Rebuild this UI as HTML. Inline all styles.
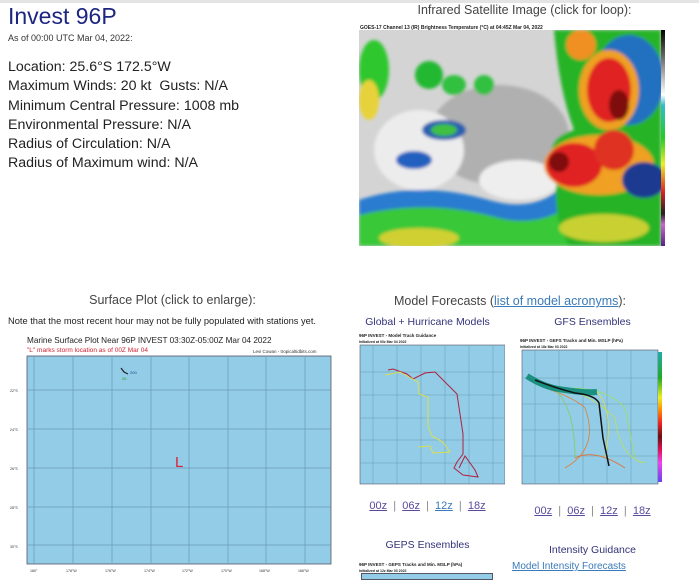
<!DOCTYPE html>
<html><head><meta charset="utf-8"><style>
*{margin:0;padding:0;box-sizing:border-box}
body{width:699px;height:580px;overflow:hidden;background:#fff;font-family:"Liberation Sans","DejaVu Sans",sans-serif;position:relative;color:#222}
.a{position:absolute;white-space:nowrap}
.c{text-align:center}
.lk{color:#5b4a9b;text-decoration:underline}
</style></head><body>
<div class="a" style="left:0;top:0;width:699px;height:3px;background:#e4e4e4"></div>
<div class="a" style="left:8px;top:3px;font-size:23px;color:#1c2580">Invest 96P</div>
<div class="a" style="left:8px;top:33px;font-size:9px;color:#333">As of 00:00 UTC Mar 04, 2022:</div>
<div class="a" style="left:8px;top:58px;font-size:14.2px;line-height:19.3px;color:#222">Location: 25.6°S 172.5°W<br>Maximum Winds: 20 kt&nbsp; Gusts: N/A<br>Minimum Central Pressure: 1008 mb<br>Environmental Pressure: N/A<br>Radius of Circulation: N/A<br>Radius of Maximum wind: N/A</div>

<div class="a c" style="left:350px;width:349px;top:3px;font-size:12.5px;color:#444">Infrared Satellite Image (click for loop):</div>
<div class="a" style="left:360px;top:25px;font-size:5px;font-weight:bold;color:#222">GOES-17 Channel 13 (IR) Brightness Temperature (°C) at 04:45Z Mar 04, 2022</div>
<svg class="a" style="left:359px;top:30px" width="310" height="225" viewBox="0 0 310 225">
<defs><filter id="bl"><feGaussianBlur stdDeviation="1.5"/></filter><clipPath id="cp"><rect x="0" y="0" width="302" height="216"/></clipPath></defs>
<rect x="0" y="0" width="302" height="216" fill="#d4d4d4"/>
<g filter="url(#bl)" clip-path="url(#cp)">
<ellipse cx="140" cy="105" rx="70" ry="50" fill="#b0b0b0"/>
<ellipse cx="60" cy="120" rx="45" ry="40" fill="#ececec"/>
<ellipse cx="160" cy="150" rx="40" ry="20" fill="#eeeeee"/>
<ellipse cx="15" cy="40" rx="15" ry="30" fill="#2ec82e"/>
<ellipse cx="10" cy="70" rx="10" ry="20" fill="#e8d23a"/>
<ellipse cx="70" cy="45" rx="14" ry="14" fill="#22b832"/>
<ellipse cx="95" cy="55" rx="12" ry="10" fill="#30c040"/>
<ellipse cx="125" cy="55" rx="10" ry="10" fill="#30c040"/>
<ellipse cx="85" cy="100" rx="22" ry="10" fill="#2a60b0"/>
<ellipse cx="85" cy="100" rx="13" ry="6" fill="#40c040"/>
<ellipse cx="55" cy="130" rx="18" ry="9" fill="#2060c0"/>
<path d="M0 170 Q60 150 130 170 Q180 185 210 150 L210 216 L0 216Z" fill="#2a7cd0"/>
<path d="M0 185 Q70 168 140 188 Q190 200 230 160 L302 216 L0 216Z" fill="#38c838"/>
<ellipse cx="60" cy="208" rx="40" ry="10" fill="#d0d030"/>
<path d="M195 0 L302 0 L302 216 L210 216 Q190 180 200 140 Q180 110 215 100 Q200 60 195 0Z" fill="#28b428"/>
<ellipse cx="270" cy="50" rx="35" ry="45" fill="#2070c0"/>
<ellipse cx="250" cy="60" rx="30" ry="40" fill="#f0a020"/>
<ellipse cx="250" cy="60" rx="22" ry="32" fill="#e02020"/>
<ellipse cx="260" cy="75" rx="10" ry="15" fill="#801010"/>
<ellipse cx="222" cy="15" rx="15" ry="15" fill="#f09020"/>
<ellipse cx="240" cy="135" rx="55" ry="30" fill="#f0a020"/>
<ellipse cx="215" cy="135" rx="28" ry="22" fill="#e02020"/>
<ellipse cx="200" cy="132" rx="10" ry="10" fill="#801010"/>
<ellipse cx="255" cy="120" rx="20" ry="20" fill="#e03020"/>
<ellipse cx="285" cy="150" rx="22" ry="18" fill="#1a3a90"/>
<ellipse cx="245" cy="198" rx="45" ry="14" fill="#c8d030"/>
</g>
<rect x="302" y="0" width="4" height="216" fill="url(#cb)"/>
<linearGradient id="cb" x1="0" y1="0" x2="0" y2="1"><stop offset="0" stop-color="#000"/><stop offset=".3" stop-color="#fff"/><stop offset=".35" stop-color="#3bc"/><stop offset=".5" stop-color="#2c2"/><stop offset=".62" stop-color="#ee2"/><stop offset=".75" stop-color="#d22"/><stop offset=".85" stop-color="#222"/><stop offset=".9" stop-color="#c6c"/><stop offset="1" stop-color="#528"/></linearGradient>
</svg>

<div class="a c" style="left:0;width:345px;top:293px;font-size:12.5px;color:#444">Surface Plot (click to enlarge):</div>
<div class="a" style="left:8px;top:316px;font-size:9.3px;color:#222">Note that the most recent hour may not be fully populated with stations yet.</div>
<div class="a" style="left:27px;top:336px;font-size:8.2px;color:#222">Marine Surface Plot Near 96P INVEST 03:30Z-05:00Z Mar 04 2022</div>
<div class="a" style="left:27px;top:347px;font-size:6.5px;color:#d02030">"L" marks storm location as of 00Z Mar 04</div>
<div class="a" style="left:253px;top:349px;font-size:4.5px;color:#333">Levi Cowan - tropicaltidbits.com</div>
<svg class="a" style="left:0;top:355px" width="340" height="225">
<rect x="27" y="1" width="304" height="208" fill="#92cce6" stroke="#556" stroke-width="0.8"/>
<g stroke="#6a9ab4" stroke-width="0.7">
<line x1="34" y1="1" x2="34" y2="209"/><line x1="73" y1="1" x2="73" y2="209"/><line x1="112" y1="1" x2="112" y2="209"/><line x1="151" y1="1" x2="151" y2="209"/><line x1="189" y1="1" x2="189" y2="209"/><line x1="228" y1="1" x2="228" y2="209"/><line x1="266" y1="1" x2="266" y2="209"/><line x1="305" y1="1" x2="305" y2="209"/>
<line x1="27" y1="35" x2="331" y2="35"/><line x1="27" y1="74" x2="331" y2="74"/><line x1="27" y1="113" x2="331" y2="113"/><line x1="27" y1="152" x2="331" y2="152"/><line x1="27" y1="190" x2="331" y2="190"/>
</g>
<path d="M121 13 L124 17 L128 19" stroke="#222" stroke-width="1.2" fill="none"/>
<text x="130" y="19" font-size="4" fill="#248">200</text><text x="122" y="25" font-size="4" fill="#2a2">26</text>
<text x="175" y="112" font-size="15" fill="#e0203a" font-family="Liberation Sans">L</text>
<g font-size="3.6" fill="#333"><text x="10" y="37">22°S</text><text x="10" y="76">24°S</text><text x="10" y="115">26°S</text><text x="10" y="154">28°S</text><text x="10" y="193">30°S</text>
<text x="30" y="217">180°</text><text x="66" y="217">178°W</text><text x="105" y="217">176°W</text><text x="144" y="217">174°W</text><text x="182" y="217">172°W</text><text x="221" y="217">170°W</text><text x="259" y="217">168°W</text><text x="298" y="217">166°W</text></g>
</svg>

<div class="a c" style="left:350px;width:320px;top:294px;font-size:12.5px;color:#444">Model Forecasts (<span style="color:#3a7ab8;text-decoration:underline">list of model acronyms</span>):</div>
<div class="a c" style="left:340px;width:175px;top:316px;font-size:10.5px;color:#33337a">Global + Hurricane Models</div>
<div class="a c" style="left:510px;width:165px;top:316px;font-size:10.5px;color:#33337a">GFS Ensembles</div>
<div class="a" style="left:359px;top:333px;font-size:4.5px;font-weight:bold">96P INVEST - Model Track Guidance</div>
<div class="a" style="left:359px;top:340px;font-size:3.5px;font-weight:bold">Initialized at 00z Mar 04 2022</div>
<svg class="a" style="left:355px;top:344px" width="150" height="146">
<rect x="5" y="1" width="145" height="139" fill="#92cce6" stroke="#556" stroke-width=".6"/>
<g stroke="#6a9ab4" stroke-width=".5"><line x1="18" y1="1" x2="18" y2="140"/><line x1="42" y1="1" x2="42" y2="140"/><line x1="66" y1="1" x2="66" y2="140"/><line x1="90" y1="1" x2="90" y2="140"/><line x1="114" y1="1" x2="114" y2="140"/><line x1="138" y1="1" x2="138" y2="140"/><line x1="5" y1="28" x2="150" y2="28"/><line x1="5" y1="51" x2="150" y2="51"/><line x1="5" y1="74" x2="150" y2="74"/><line x1="5" y1="96" x2="150" y2="96"/><line x1="5" y1="119" x2="150" y2="119"/></g>
<path d="M33 26 L38 25 L52 30 L58 35 L70 29 L80 28 L102 50 L108 90 L108 110 L102 118 L99 124 L108 131 L123 133 L120 126 L110 112 L104 124" stroke="#b02040" stroke-width="1" fill="none"/>
<path d="M30 31 L45 28 L63 38 L64 50 L73 53 L73 82 L77 92 L88 98 L95 108 L78 109 L75 102 L63 103" stroke="#d8e050" stroke-width="1" fill="none"/>
</svg>
<div class="a" style="left:520px;top:338px;font-size:4.5px;font-weight:bold">96P INVEST - GEFS Tracks and Min. MSLP (hPa)</div>
<div class="a" style="left:520px;top:345px;font-size:3.5px;font-weight:bold">Initialized at 18z Mar 03 2022</div>
<svg class="a" style="left:515px;top:348px" width="150" height="142">
<rect x="7" y="2" width="136" height="134" fill="#92cce6" stroke="#556" stroke-width=".6"/>
<g stroke="#6a9ab4" stroke-width=".5"><line x1="20" y1="2" x2="20" y2="136"/><line x1="44" y1="2" x2="44" y2="136"/><line x1="68" y1="2" x2="68" y2="136"/><line x1="92" y1="2" x2="92" y2="136"/><line x1="116" y1="2" x2="116" y2="136"/><line x1="7" y1="30" x2="143" y2="30"/><line x1="7" y1="56" x2="143" y2="56"/><line x1="7" y1="82" x2="143" y2="82"/><line x1="7" y1="108" x2="143" y2="108"/></g>
<g fill="none" stroke-width=".8">
<path d="M20 30 Q40 45 60 40 Q95 42 110 60 L120 110" stroke="#a0e060"/>
<path d="M25 35 Q50 45 80 42 Q100 60 90 110" stroke="#e0e040"/>
<path d="M30 40 Q60 50 70 60 Q85 100 50 120" stroke="#e08030"/>
<path d="M30 38 Q70 40 100 70 Q105 110 130 115" stroke="#c0e050"/>
<path d="M40 42 Q60 60 60 110" stroke="#80d060"/>
<path d="M60 110 Q80 100 110 120" stroke="#e07030"/>
</g>
<path d="M12 28 Q30 40 50 42 Q70 45 82 44" stroke="#1a9080" stroke-width="6" fill="none"/>
<path d="M20 32 Q40 40 60 45 Q80 47 84 55 L88 90 L94 118" stroke="#111" stroke-width="1.5" fill="none"/>
<rect x="143" y="4" width="4" height="130" fill="url(#cb2)"/>
<linearGradient id="cb2" x1="0" y1="0" x2="0" y2="1"><stop offset="0" stop-color="#2aa"/><stop offset=".2" stop-color="#2a2"/><stop offset=".35" stop-color="#ee2"/><stop offset=".45" stop-color="#f80"/><stop offset=".55" stop-color="#e22"/><stop offset=".65" stop-color="#611"/><stop offset=".75" stop-color="#d15"/><stop offset=".85" stop-color="#e4e"/><stop offset="1" stop-color="#64e"/></linearGradient>
</svg>
<div class="a c" style="left:340px;width:175px;top:500px;font-size:11px;color:#888"><span class="lk">00z</span> &nbsp;|&nbsp; <span class="lk">06z</span> &nbsp;|&nbsp; <span class="lk" style="color:#3a7ab8">12z</span> &nbsp;|&nbsp; <span class="lk">18z</span></div>
<div class="a c" style="left:505px;width:175px;top:505px;font-size:11px;color:#888"><span class="lk">00z</span> &nbsp;|&nbsp; <span class="lk">06z</span> &nbsp;|&nbsp; <span class="lk">12z</span> &nbsp;|&nbsp; <span class="lk">18z</span></div>
<div class="a c" style="left:340px;width:175px;top:539px;font-size:10.5px;color:#33337a">GEPS Ensembles</div>
<div class="a c" style="left:505px;width:175px;top:544px;font-size:10.5px;color:#33337a">Intensity Guidance</div>
<div class="a" style="left:512px;top:561px;font-size:10px;color:#3a7ab8;text-decoration:underline">Model Intensity Forecasts</div>
<div class="a" style="left:359px;top:562px;font-size:4.5px;font-weight:bold">96P INVEST - GEPS Tracks and Min. MSLP (hPa)</div>
<div class="a" style="left:359px;top:569px;font-size:3.5px;font-weight:bold">Initialized at 12z Mar 03 2022</div>
<div class="a" style="left:361px;top:573px;width:132px;height:7px;background:#92cce6;border:1px solid #556"></div>
</body></html>
